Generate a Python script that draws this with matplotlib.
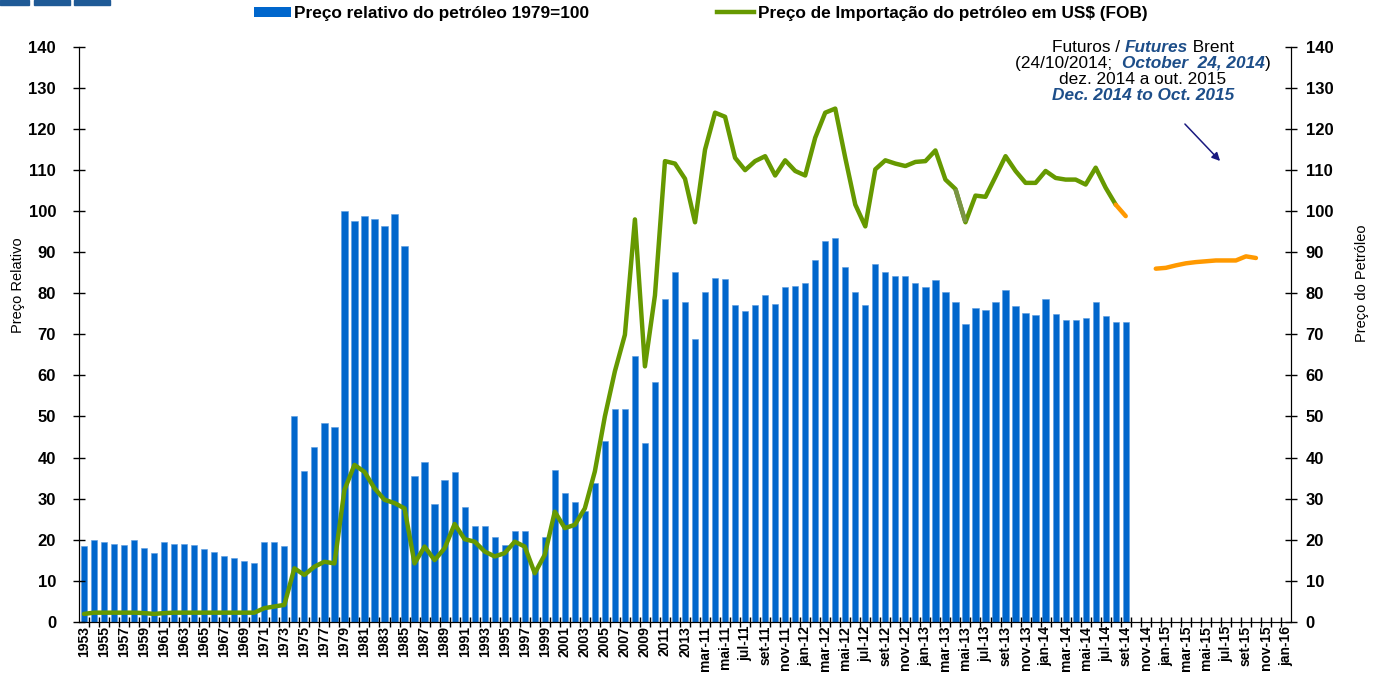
import matplotlib
matplotlib.use("Agg")
import matplotlib.pyplot as plt
from matplotlib.patches import Rectangle, Patch
from matplotlib.lines import Line2D
from matplotlib.offsetbox import TextArea, HPacker, VPacker, AnnotationBbox
import numpy as np

plt.rcParams['font.family'] = ['Liberation Sans', 'DejaVu Sans']

# categorias: anos 1953-2013, depois meses fev-11 .. jan-16
anos = list(range(1953, 2014))
meses = ["jan", "fev", "mar", "abr", "mai", "jun", "jul", "ago", "set", "out", "nov", "dez"]
mensal = [m + "-" + str(a)[2:] for a in range(2011, 2017) for m in meses]
mensal = mensal[1:mensal.index("jan-16") + 1]
labels = [str(a) for a in anos] + mensal

# Preço relativo do petróleo 1979=100 (barras)
rel_anual = [18.5, 19.8, 19.5, 18.9, 18.7, 19.8, 17.9, 16.8, 19.3, 18.9,
             18.9, 18.7, 17.6, 17.1, 16.0, 15.4, 14.9, 14.4, 19.3, 19.5,
             18.5, 50.0, 36.8, 42.5, 48.4, 47.4, 100.0, 97.5, 98.8, 98.1,
             96.5, 99.2, 91.6, 35.6, 39.0, 28.6, 34.6, 36.4, 28.0, 23.4,
             23.2, 20.7, 18.7, 22.0, 22.2, 13.0, 20.6, 37.0, 31.3, 29.1,
             27.0, 33.7, 44.1, 51.8, 51.8, 64.8, 43.5, 58.4, 78.5, 85.1,
             77.9]
rel_mensal = [68.9, 80.3, 83.7, 83.5, 77.1, 75.6, 77.1, 79.5, 77.4, 81.6, 81.9, 82.5,
              88.0, 92.8, 93.4, 86.5, 80.4, 77.1, 87.2, 85.2, 84.1, 84.1, 82.5, 81.6,
              83.3, 80.4, 78.0, 72.6, 76.3, 75.9, 78.0, 80.9, 76.8, 75.2, 74.7, 78.7,
              75.0, 73.6, 73.6, 73.9, 78.0, 74.4, 73.1, 73.1]

# Preço de importação do petróleo em US$ (FOB) (linha)
imp_anual = [1.9, 2.2, 2.2, 2.2, 2.2, 2.2, 2.1, 1.9, 2.1, 2.2,
             2.2, 2.2, 2.2, 2.2, 2.2, 2.2, 2.2, 2.2, 3.3, 3.7,
             4.1, 13.0, 11.4, 13.4, 14.6, 14.2, 32.1, 38.2, 36.5, 32.5,
             29.7, 28.9, 27.6, 14.2, 18.3, 15.0, 17.9, 23.8, 20.1, 19.5,
             17.1, 15.9, 16.7, 19.5, 18.3, 11.8, 16.3, 26.8, 22.8, 23.6,
             27.6, 36.6, 50.0, 61.0, 69.9, 98.0, 62.2, 79.5, 112.2, 111.6,
             107.9]
imp_mensal = [97.3, 115.0, 124.0, 123.0, 113.0, 110.0, 112.2, 113.4, 108.7, 112.4, 109.8, 108.7,
              117.9, 124.0, 125.0, 113.0, 101.6, 96.3, 110.2, 112.4, 111.6, 111.0, 112.0, 112.2,
              114.8, 107.7, 105.4, 97.3, 103.8, 103.5, 108.4, 113.4, 109.8, 106.9, 106.9, 109.8,
              108.1, 107.7, 107.7, 106.5, 110.6, 105.7, 101.6]
recente = [101.6, 98.8]          # ago-14, set-14

# Futuros Brent dez-14 a out-15
futuros = [86.0, 86.2, 86.8, 87.3, 87.6, 87.8, 88.0, 88.0, 88.0, 89.0, 88.6]

x = np.arange(len(labels))
rel = rel_anual + rel_mensal
imp = imp_anual + imp_mensal

fig = plt.figure(figsize=(13.73, 6.75), dpi=100)
ax = fig.add_axes([79 / 1373, 1 - 621.7 / 675, (1291 - 79) / 1373, (621.7 - 47) / 675])
ax2 = ax.twinx()

ax.bar(x[:len(rel)], rel, width=0.62, color='#0066cc', edgecolor='#5b9be0', linewidth=0.4)

ax2.plot(x[:len(imp)], imp, color='#669900', lw=3.2, solid_joinstyle='round', solid_capstyle='round')
i0 = labels.index("abr-13")
ax2.plot(x[i0:i0 + 2], imp[i0:i0 + 2], color='#7a9445', lw=3.2, solid_capstyle='butt')
i1 = labels.index("ago-14")
ax2.plot(x[i1:i1 + 2], recente, color='#ff9900', lw=3.2, solid_capstyle='round')
i2 = labels.index("dez-14")
ax2.plot(x[i2:i2 + len(futuros)], futuros, color='#ff9900', lw=3.2, solid_capstyle='round')

for a in (ax, ax2):
    a.set_ylim(0, 140)
    a.set_yticks(np.arange(0, 141, 10))
    a.set_xlim(-0.5, len(labels) - 0.5)
    a.spines['top'].set_visible(False)
    a.tick_params(axis='y', direction='inout', length=9, width=1, labelsize=12)
    for lab in a.get_yticklabels():
        lab.set_fontweight('bold')

ax.set_xticks(x[::2])
ax.set_xticklabels(labels[::2], rotation=90, fontsize=10, fontweight='bold')
ax.set_xticks(x[:-1] + 0.5, minor=True)
ax.tick_params(axis='x', which='major', length=0, pad=3)
ax.tick_params(axis='x', which='minor', direction='inout', length=7, width=1)
ax.tick_params(axis='y', pad=12)
ax2.tick_params(axis='y', pad=6)

fig.text(18 / 1373, 1 - 285 / 675, "Preço Relativo", rotation=90, ha='center', va='center', fontsize=10.5)
fig.text(1362 / 1373, 1 - 283 / 675, "Preço do Petróleo", rotation=90, ha='center', va='center', fontsize=10.5)

# legenda
handles = [Patch(facecolor='#0066cc', edgecolor='none'),
           Line2D([0], [0], color='#669900', lw=3.2)]
fig.legend(handles, ["Preço relativo do petróleo 1979=100",
                     "Preço de Importação do petróleo em US$ (FOB)"],
           ncol=2, loc='upper left', bbox_to_anchor=(254 / 1373, 1 - 6 / 675),
           frameon=False, borderpad=0, borderaxespad=0, handlelength=2.15,
           handleheight=0.55, handletextpad=0.2, columnspacing=7.4,
           prop={'weight': 'bold', 'size': 12.4})

# nota futuros
azul = '#1d4e89'
normal = dict(fontsize=12.4, color='black')
destaque = dict(fontsize=12.4, color=azul, fontweight='bold', fontstyle='italic')
l1 = HPacker(children=[TextArea("Futuros / ", textprops=normal),
                       TextArea("Futures", textprops=destaque),
                       TextArea(" Brent", textprops=normal)], sep=0, pad=0)
l2 = HPacker(children=[TextArea("(24/10/2014;  ", textprops=normal),
                       TextArea("October  24, 2014", textprops=destaque),
                       TextArea(")", textprops=normal)], sep=0, pad=0)
l3 = TextArea("dez. 2014 a out. 2015", textprops=normal)
l4 = TextArea("Dec. 2014 to Oct. 2015", textprops=destaque)
caixa = VPacker(children=[l1, l2, l3, l4], align='center', sep=0.6, pad=0)
ab = AnnotationBbox(caixa, (1143 / 1373, 1 - 40 / 675), xycoords='figure fraction',
                    box_alignment=(0.5, 1), frameon=False, pad=0)
fig.add_artist(ab)

ax.annotate("", xy=(1222 / 1373, 1 - 163 / 675), xytext=(1183 / 1373, 1 - 122 / 675),
            xycoords='figure fraction', textcoords='figure fraction',
            arrowprops=dict(arrowstyle='-|>', color='#1a1a80', lw=1.1, mutation_scale=12))

# barras decorativas no canto superior esquerdo
for x0, w in [(0, 29), (34, 36), (74, 36)]:
    fig.patches.append(Rectangle((x0 / 1373, 1 - 4.5 / 675), w / 1373, 4.5 / 675,
                                 transform=fig.transFigure, color='#1f5a96', zorder=5))

fig.savefig("out.png", dpi=100)
